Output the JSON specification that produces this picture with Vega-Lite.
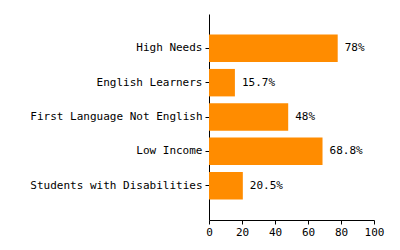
{
  "$schema": "https://vega.github.io/schema/vega-lite/v6.json",
  "autosize": {"type": "none"},
  "width": 165,
  "height": 206,
  "padding": {"left": 209, "top": 14, "right": 26, "bottom": 30},
  "background": "white",
  "config": {
    "view": {"stroke": null},
    "font": "DejaVu Sans Mono",
    "axis": {
      "grid": false,
      "domainColor": "black",
      "tickColor": "black",
      "labelColor": "black",
      "labelFont": "DejaVu Sans Mono",
      "labelFontSize": 11,
      "tickSize": 4,
      "title": null
    }
  },
  "data": {
    "values": [
      {"group": "High Needs", "value": 78, "label": "78%"},
      {"group": "English Learners", "value": 15.7, "label": "15.7%"},
      {"group": "First Language Not English", "value": 48, "label": "48%"},
      {"group": "Low Income", "value": 68.8, "label": "68.8%"},
      {"group": "Students with Disabilities", "value": 20.5, "label": "20.5%"}
    ]
  },
  "encoding": {
    "y": {
      "field": "group",
      "type": "nominal",
      "sort": null,
      "scale": {"paddingInner": 0.2, "paddingOuter": 0.6},
      "axis": {"labelPadding": 3, "labelLimit": 300}
    },
    "x": {
      "field": "value",
      "type": "quantitative",
      "scale": {"domain": [0, 100], "nice": false},
      "axis": {"values": [0, 20, 40, 60, 80, 100], "labelPadding": 2, "labelFlush": false}
    }
  },
  "layer": [
    {"mark": {"type": "bar", "color": "#FF8C00"}},
    {
      "mark": {"type": "text", "align": "left", "baseline": "middle", "dx": 7, "font": "DejaVu Sans Mono", "fontSize": 11, "color": "black"},
      "encoding": {"text": {"field": "label"}}
    }
  ]
}
